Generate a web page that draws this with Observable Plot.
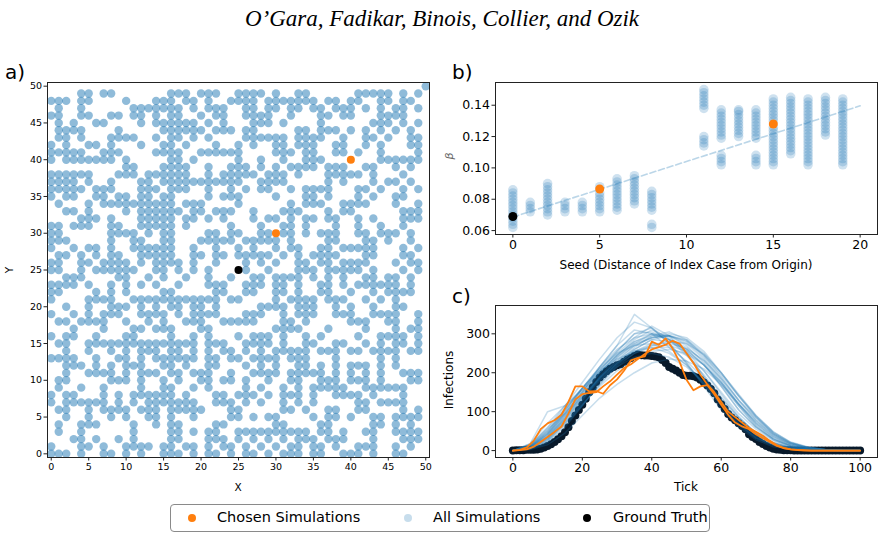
<!DOCTYPE html>
<html>
<head>
<meta charset="utf-8">
<script src="https://cdn.jsdelivr.net/npm/d3@7"></script>
<script src="https://cdn.jsdelivr.net/npm/@observablehq/plot@0.6"></script>
<style>
  body { margin: 0; background: #fff; }
  #fig { position: relative; width: 884px; height: 539px; overflow: hidden; font-family: "DejaVu Sans", sans-serif; color: #000; }
  #fig svg { position: absolute; overflow: visible; }
  .lbl { position: absolute; white-space: nowrap; line-height: 1; }
  .rot { transform: translate(-50%, -50%) rotate(-90deg); }
  .ctr { transform: translate(-50%, -50%); }
  #title { position: absolute; left: 0; width: 884px; top: 6px; text-align: center; font-family: "Liberation Serif", serif; font-style: italic; font-size: 23px; }
  #legend { position: absolute; left: 170px; top: 504px; width: 540px; height: 28px; border: 1px solid #8a8a8a; border-radius: 4px; box-sizing: border-box; }
  .sw { position: absolute; top: 9px; width: 8px; height: 8px; border-radius: 50%; }
  .lt { position: absolute; top: 5px; font-size: 14.5px; line-height: 1; }
</style>
</head>
<body>
<div id="fig"></div>
<script>
// ---------- Panel a: occupied grid cells, listed per row (y) as x positions ----------
const gridRows = [
  [50, [50]],
  [49, [4,5,7,8,16,17,18,20,21,22,25,26,27,28,30,33,34,41,42,43,44,45,47,49]],
  [48, [0,1,2,4,5,10,14,15,16,18,19,21,24,25,26,27,29,30,31,32,33,34,35,37,38,40,41,44,45,47,48]],
  [47, [1,4,11,12,13,14,15,16,17,19,21,22,23,26,27,29,30,32,33,35,36,38,39,40,42,44,46,47,49]],
  [46, [0,1,4,5,8,9,11,12,14,16,17,20,22,23,26,27,28,29,32,36,37,39,40,44,45,46,47]],
  [45, [1,3,6,7,12,14,15,16,17,18,19,21,23,27,28,29,31,36,43,44,45,47,49]],
  [44, [1,2,3,4,9,15,16,17,18,19,20,22,23,24,26,27,33,34,36,37,38,40,42,44,46,48]],
  [43, [1,2,4,8,9,10,11,14,16,17,19,21,26,27,28,29,30,31,33,34,35,36,39,42,43,45,48,49]],
  [42, [0,2,5,6,8,12,15,16,18,22,25,27,30,31,33,34,35,38,39,42,44,48,49]],
  [41, [0,1,2,3,4,7,8,9,14,15,16,17,20,21,22,23,24,25,30,31,32,34,35,38,39,41,44,49]],
  [40, [0,2,3,4,5,6,7,8,10,16,17,19,25,28,31,34,35,36,44,45,46,47,48,49]],
  [39, [10,11,15,16,17,18,21,24,25,26,28,30,32,33,34,35,37,38,39,42,43,46,48]],
  [38, [0,1,2,3,4,5,9,10,11,13,14,15,16,17,18,21,23,24,25,26,27,29,30,31,33,37,38,39,40,41,43,47]],
  [37, [0,1,2,3,5,8,12,13,15,16,17,18,19,20,21,22,23,24,25,28,29,30,31,37,39,43,45,46,48]],
  [36, [0,1,2,3,4,6,7,8,12,13,14,16,17,18,21,24,26,28,29,32,34,35,36,37,41,42,44,47,49]],
  [35, [0,2,3,6,7,9,10,12,13,15,16,21,23,24,25,30,34,35,37,41,43,46,47]],
  [34, [1,5,7,8,9,10,11,12,13,14,15,16,18,19,20,25,32,34,35,36,39,40,41,42,46,49]],
  [33, [2,3,5,10,12,13,14,15,16,17,19,20,22,23,24,27,31,32,33,37,39,40,47,48,49]],
  [32, [4,5,6,8,12,13,14,15,16,18,19,21,23,27,29,30,32,34,35,37,38,41,43,47,48,49]],
  [31, [0,1,3,4,5,8,9,12,13,14,15,16,18,24,28,31,32,34,38,41,44,47]],
  [30, [0,1,8,9,10,11,13,15,16,21,22,24,25,28,29,31,32,34,36,37,38,41,42,44,45,46,48]],
  [29, [0,1,2,8,11,12,15,16,20,21,22,23,24,26,27,28,29,30,32,37,38,42,43,45,48]],
  [28, [0,3,5,6,8,11,12,13,14,15,16,19,22,25,27,30,32,33,36,37,39,40,41,42,43,47,49]],
  [27, [1,2,4,6,8,9,12,13,14,15,16,19,20,22,23,25,26,27,28,29,31,33,35,36,37,38,42,43,47,48]],
  [26, [0,1,4,5,7,8,9,10,12,14,15,16,17,19,22,26,28,30,33,34,36,37,39,40,41,42,46,48,49]],
  [25, [0,1,4,6,7,8,9,10,11,14,15,17,19,21,26,29,33,34,35,37,38,39,40,41,43,47,49]],
  [24, [2,3,4,9,10,13,15,18,21,24,27,28,30,31,32,33,35,37,39,42,43,45,46,48]],
  [23, [0,1,2,3,5,8,10,12,14,17,21,22,23,26,27,28,30,31,33,36,37,39,41,42,43,44,45,46,48]],
  [22, [0,1,6,8,10,15,16,22,23,26,27,30,31,33,36,37,40,43,45,46,47,48]],
  [21, [0,5,6,7,8,11,12,13,14,15,16,17,18,19,20,21,22,24,25,30,32,33,34,35,37,38,39,42,44,46]],
  [20, [2,5,8,9,10,12,14,16,17,19,20,22,28,29,30,31,33,34,35,38,40,43,46,47]],
  [19, [0,3,5,7,8,9,12,13,14,15,17,19,20,21,22,26,27,28,31,33,34,35,38,39,40,43,44,45,46,49]],
  [18, [1,2,4,5,6,7,10,13,15,18,19,20,23,24,25,26,27,31,32,34,40,41,42,45,46,49]],
  [17, [3,7,11,12,14,15,16,20,21,30,31,32,33,37,42,46,48,49]],
  [16, [0,2,3,6,10,11,16,19,21,25,27,28,29,31,34,36,41,44,45,46,47,49]],
  [15, [1,2,5,6,7,8,9,10,11,12,13,14,15,16,17,18,19,21,22,23,26,27,28,29,31,34,35,38,39,42,44,46,47,49]],
  [14, [2,5,8,10,12,13,14,16,17,19,21,23,24,26,28,30,31,32,33,34,36,37,38,40,41,43,44,45,46,48,49]],
  [13, [0,1,2,3,6,9,10,12,14,15,16,17,18,19,21,22,24,25,27,28,29,30,32,33,34,38,44,46]],
  [12, [2,3,4,6,8,10,11,12,15,16,18,21,22,26,28,30,33,34,36,38,40,41,42,44,46]],
  [11, [2,5,6,7,8,10,12,13,14,16,17,19,20,21,24,27,28,29,30,32,33,34,35,36,38,40,42,44,47,48,49]],
  [10, [1,2,8,9,10,12,15,17,20,21,23,24,26,29,32,33,36,37,38,40,41,42,44,48,49]],
  [9,  [1,4,7,12,15,16,19,21,26,28,31,33,35,36,37,38,39,42,43,44,45,46,47]],
  [8,  [0,2,3,7,9,11,12,13,14,15,16,18,22,23,25,26,27,29,31,32,33,35,38,39,40,41,43,47]],
  [7,  [0,2,3,4,5,6,7,9,11,13,14,15,16,17,18,19,22,23,24,26,28,31,33,35,41,42,44,45,46,47]],
  [6,  [1,2,5,7,8,9,10,12,13,14,16,17,18,19,20,24,25,31,32,34,37,38,41,42,47,49]],
  [5,  [2,5,8,10,13,14,16,19,24,25,27,29,30,35,37,38,40,43,44,46,47,48,49]],
  [4,  [1,4,5,6,11,14,16,17,22,23,30,31,36,37,43,44,46,48]],
  [3,  [1,4,11,16,17,19,21,22,25,26,27,28,29,30,31,32,33,34,36,37,39,42,43,46,47,48,49]],
  [2,  [3,4,6,9,11,16,17,21,22,23,25,27,29,31,33,34,35,37,38,39,43,47,48,49]],
  [1,  [0,4,5,7,10,11,12,13,15,16,18,19,21,23,24,26,28,30,32,33,35,36,38,41,42,43,46,48]],
  [0,  [0,1,2,4,7,8,10,12,15,16,17,19,21,22,24,26,27,29,31,32,33,35,36,39,40,41,43,46,47]]
];
const chosenOrigins = [[30, 30], [40, 40]];
const truthOrigin = [25, 25];
const gridTicks = [0, 5, 10, 15, 20, 25, 30, 35, 40, 45, 50];

// ---------- Panel b: beta values of each simulation, grouped by seed ----------
const betaBySeed = [
  [0,  [0.062,0.064,0.066,0.068,0.070,0.072,0.074,0.076,0.078,0.080,0.082,0.084,0.086]],
  [1,  [0.072,0.074,0.076,0.078]],
  [2,  [0.070,0.072,0.074,0.076,0.078,0.080,0.082,0.084,0.086,0.088,0.090]],
  [3,  [0.072,0.074,0.076,0.078]],
  [4,  [0.072,0.074,0.076,0.078]],
  [5,  [0.072,0.074,0.076,0.078,0.080,0.082,0.084,0.088]],
  [6,  [0.073,0.075,0.077,0.079,0.081,0.083,0.085,0.087,0.089,0.091,0.093]],
  [7,  [0.077,0.079,0.081,0.083,0.085,0.087,0.089,0.091,0.093,0.095]],
  [8,  [0.062,0.064,0.073,0.075,0.077,0.079,0.081,0.083,0.085]],
  [11, [0.114,0.116,0.118,0.120,0.138,0.140,0.142,0.144,0.146,0.148,0.150]],
  [12, [0.102,0.104,0.106,0.108,0.119,0.121,0.123,0.125,0.127,0.129,0.131,0.133,0.135,0.137]],
  [13, [0.120,0.122,0.124,0.126,0.128,0.130,0.132,0.134,0.136,0.137]],
  [14, [0.102,0.104,0.106,0.108,0.119,0.121,0.123,0.125,0.127,0.129,0.131,0.133,0.135,0.137]],
  [15, [0.102,0.104,0.106,0.108,0.110,0.112,0.114,0.116,0.118,0.120,0.122,0.124,0.126,0.130,0.132,0.134,0.136,0.138,0.140,0.142,0.144]],
  [16, [0.109,0.111,0.113,0.115,0.117,0.119,0.121,0.123,0.125,0.127,0.129,0.131,0.133,0.135,0.137,0.139,0.141,0.143,0.145]],
  [17, [0.102,0.104,0.106,0.108,0.110,0.112,0.114,0.116,0.118,0.120,0.122,0.124,0.126,0.128,0.130,0.132,0.134,0.136,0.138,0.140,0.142,0.144]],
  [18, [0.121,0.123,0.125,0.127,0.129,0.131,0.133,0.135,0.137,0.139,0.141,0.143,0.145]],
  [19, [0.102,0.104,0.106,0.108,0.110,0.112,0.114,0.116,0.118,0.120,0.122,0.124,0.126,0.128,0.130,0.132,0.134,0.136,0.138,0.140,0.142,0.144]]
];
const chosenBeta = [[5, 0.0865], [15, 0.128]];
const truthBeta = [0, 0.069];
const fitLine = [[0, 0.0686], [20, 0.1396]];
const seedTicks = [0, 5, 10, 15, 20];
const betaTicks = [0.06, 0.08, 0.10, 0.12, 0.14];

// ---------- Panel c: infections over time ----------
const truthCurve = [
  0,1,1,1,2,2,2,3,5,8,
  12,16,22,29,37,47,60,76,90,104,
  118,133,150,163,176,188,196,204,210,215,
  219,222,228,234,238,243,247,245,244,244,
  243,242,240,233,225,215,210,206,200,194,
  192,192,191,188,182,175,167,158,147,131,
  119,107,94,85,78,70,63,55,42,35,
  30,22,17,12,8,5,3,2,1,1,
  1,0,0,0,0,0,0,0,0,0,
  0,0,0,0,0,0,0,0,0,0,0
];
const chosenTicks = [0,2,4,6,8,10,12,14,16,18,20,22,24,26,28,30,32,34,36,38,40,42,44,46,48,50,52,54,56,58,60,62,64,66,68,70,72,74,76,78,80,82,84,86,88,90,92,94,96,98,100];
const chosenA = [0,2,8,25,55,70,78,92,125,165,165,152,153,146,168,183,205,232,238,242,280,272,288,262,228,182,155,165,168,145,118,92,72,62,55,42,32,22,12,6,3,2,1,0,0,0,0,0,0,0,0];
const chosenB = [0,1,3,10,22,35,48,62,95,132,145,148,150,165,178,195,212,222,235,248,260,266,272,282,275,250,225,195,170,150,125,100,86,72,58,48,38,25,14,7,3,1,0,0,0,0,0,0,0,0,0];
const simTicks = [0,5,10,15,20,25,30,35,40,45,50,55,60,65,70,75,80,85,90,95,100];
const simRuns = [
  [0,10,45,100,160,215,260,290,300,285,250,190,125,75,38,16,6,2,1,0,0],
  [0,8,35,85,145,200,245,280,300,295,270,225,165,105,60,30,12,4,1,0,0],
  [0,15,60,115,175,235,290,330,315,275,225,165,105,60,28,10,4,1,0,0,0],
  [0,5,25,70,125,180,225,265,295,305,285,245,190,130,80,42,18,7,2,1,0],
  [0,12,50,105,160,210,250,270,275,255,220,170,115,68,32,14,5,2,0,0,0],
  [0,6,30,75,130,190,240,275,290,295,280,240,185,130,85,45,20,8,3,1,0],
  [0,18,70,115,160,215,270,350,315,275,225,170,115,65,32,14,5,2,0,0,0],
  [0,10,40,90,140,185,220,250,265,265,245,205,150,95,55,25,10,3,1,0,0],
  [0,7,30,80,135,180,215,240,250,240,215,175,125,78,40,18,7,2,1,0,0],
  [0,4,20,60,115,170,220,260,285,295,285,250,200,145,90,48,22,9,3,1,0],
  [0,14,55,95,150,215,270,310,300,265,230,185,135,85,45,20,8,3,1,0,0],
  [0,9,38,88,140,190,230,260,285,280,260,220,165,105,60,28,12,5,2,0,0],
  [0,11,48,100,155,200,245,285,310,290,255,205,145,88,45,20,8,3,1,0,0],
  [0,6,28,72,120,165,205,235,255,260,250,220,175,120,72,36,15,6,2,0,0],
  [0,18,100,115,155,205,250,290,320,295,250,190,130,78,40,18,6,2,1,0,0],
  [0,8,34,82,135,185,230,270,290,295,282,245,195,140,88,45,20,8,3,1,0],
  [0,5,22,65,115,175,225,255,270,270,255,220,175,120,70,35,15,6,2,0,0],
  [0,13,52,105,160,205,235,255,265,250,220,175,120,70,35,15,5,2,0,0,0],
  [0,3,15,45,90,135,170,200,225,235,230,210,170,120,75,40,18,7,2,1,0],
  [0,9,42,95,150,205,255,300,305,285,260,220,170,115,65,30,12,4,1,0,0],
  [0,12,45,95,150,200,245,280,295,295,275,235,180,120,68,32,13,5,1,0,0],
  [0,7,32,78,130,185,235,270,290,300,290,255,200,140,85,42,18,7,2,0,0],
  [0,10,42,92,145,195,240,275,300,285,265,230,175,115,62,28,11,4,1,0,0],
  [0,6,26,68,118,170,215,250,270,280,275,248,200,142,90,48,21,8,3,1,0],
  [0,15,58,108,160,210,255,300,315,285,245,195,138,85,45,20,8,3,1,0,0],
  [0,9,36,84,138,188,225,255,275,275,262,232,185,128,78,38,16,6,2,0,0]
];
const tickTicks = [0, 20, 40, 60, 80, 100];
const infectionTicks = [0, 100, 200, 300];

// ---------- colours ----------
const BLUE = "#1f77b4", ORANGE = "#ff7f0e", AXIS = "#222";

const fig = document.getElementById("fig");
function place(svg, left, top) { svg.style.left = left + "px"; svg.style.top = top + "px"; fig.appendChild(svg); }
function text(html, left, top, cls, style) {
  const d = document.createElement("div");
  d.className = "lbl " + (cls || "");
  d.innerHTML = html;
  d.style.left = left + "px"; d.style.top = top + "px";
  Object.assign(d.style, style || {});
  fig.appendChild(d);
  return d;
}

// ---------- a) grid ----------
const cells = gridRows.flatMap(([y, xs]) => xs.map(x => ({x, y})));
const plotA = Plot.plot({
  width: 440, height: 440,
  marginLeft: 47, marginRight: 11, marginTop: 22, marginBottom: 43,
  style: {fontFamily: "DejaVu Sans", fontSize: "9.5px", background: "transparent"},
  x: {domain: [-0.5, 50.5]},
  y: {domain: [-0.5, 50.5]},
  marks: [
    Plot.dot(cells, {x: "x", y: "y", r: 4.2, fill: BLUE, fillOpacity: 0.5, clip: true}),
    Plot.dot(chosenOrigins, {x: d => d[0], y: d => d[1], r: 4, fill: ORANGE}),
    Plot.dot([truthOrigin], {x: d => d[0], y: d => d[1], r: 4, fill: "#000"}),
    Plot.frame({stroke: AXIS, strokeWidth: 1}),
    Plot.axisX({ticks: gridTicks, tickSize: 3.5, tickPadding: 2, label: null, stroke: AXIS}),
    Plot.axisY({ticks: gridTicks, tickSize: 3.5, tickPadding: 2, label: null, stroke: AXIS})
  ]
});
place(plotA, 0, 60);

// ---------- b) beta vs seed ----------
const betaPoints = betaBySeed.flatMap(([seed, bs]) => bs.map(beta => ({seed, beta})));
const plotB = Plot.plot({
  width: 444, height: 200,
  marginLeft: 55, marginRight: 7, marginTop: 22, marginBottom: 26,
  style: {fontFamily: "DejaVu Sans", fontSize: "12.5px", background: "transparent"},
  x: {domain: [-1, 21]},
  y: {domain: [0.0575, 0.1545]},
  marks: [
    Plot.dot(betaPoints, {x: "seed", y: "beta", r: 4.8, fill: BLUE, fillOpacity: 0.22}),
    Plot.line(fitLine, {x: d => d[0], y: d => d[1], stroke: BLUE, strokeOpacity: 0.3, strokeWidth: 1.6, strokeDasharray: "6,3"}),
    Plot.dot(chosenBeta, {x: d => d[0], y: d => d[1], r: 4.5, fill: ORANGE}),
    Plot.dot([truthBeta], {x: d => d[0], y: d => d[1], r: 4.5, fill: "#000"}),
    Plot.frame({stroke: AXIS, strokeWidth: 1}),
    Plot.axisX({ticks: seedTicks, tickSize: 3.5, tickPadding: 2, label: null, stroke: AXIS}),
    Plot.axisY({ticks: betaTicks, tickFormat: d3.format(".2f"), tickSize: 3.5, tickPadding: 2, label: null, stroke: AXIS})
  ]
});
place(plotB, 440, 60);

// ---------- c) infections ----------
const simRows = simRuns.flatMap((vals, i) => vals.map((v, j) => ({sim: i, tick: simTicks[j], v})));
const truthRows = truthCurve.map((v, t) => ({tick: t, v}));
const chosenRows = [chosenA, chosenB].flatMap((vals, i) => vals.map((v, j) => ({sim: i, tick: chosenTicks[j], v})));
const plotC = Plot.plot({
  width: 444, height: 195,
  marginLeft: 55, marginRight: 7, marginTop: 20, marginBottom: 23,
  style: {fontFamily: "DejaVu Sans", fontSize: "12.5px", background: "transparent"},
  x: {domain: [-5, 105]},
  y: {domain: [-17.75, 372.75]},
  marks: [
    Plot.dot(truthRows, {x: "tick", y: "v", r: 4, fill: "#08192a"}),
    Plot.line(simRows, {x: "tick", y: "v", z: "sim", stroke: BLUE, strokeOpacity: 0.25, strokeWidth: 1.5}),
    Plot.line(chosenRows, {x: "tick", y: "v", z: "sim", stroke: ORANGE, strokeWidth: 1.8}),
    Plot.frame({stroke: AXIS, strokeWidth: 1}),
    Plot.axisX({ticks: tickTicks, tickSize: 3.5, tickPadding: 2, label: null, stroke: AXIS}),
    Plot.axisY({ticks: infectionTicks, tickSize: 3.5, tickPadding: 2, label: null, stroke: AXIS})
  ]
});
place(plotC, 440, 285);

// ---------- titles, axis labels, legend ----------
const title = document.createElement("div");
title.id = "title";
title.textContent = "O’Gara, Fadikar, Binois, Collier, and Ozik";
fig.appendChild(title);

text("a)", 5, 62, "", {fontSize: "20px"});
text("b)", 452, 62, "", {fontSize: "20px"});
text("c)", 452, 286, "", {fontSize: "20px"});

text("X", 238, 487, "ctr", {fontSize: "10.5px"});
text("Y", 9, 270, "rot", {fontSize: "10.5px"});
text("Seed (Distance of Index Case from Origin)", 686, 265, "ctr", {fontSize: "12px"});
text("β", 449, 156, "rot", {fontSize: "11px", fontStyle: "italic", color: "#666"});
text("Tick", 686, 487, "ctr", {fontSize: "12px"});
text("Infections", 449, 380, "rot", {fontSize: "12px"});

const legend = document.createElement("div");
legend.id = "legend";
legend.innerHTML =
  `<div class="sw" style="left:17px;background:${ORANGE}"></div><div class="lt" style="left:46px">Chosen Simulations</div>` +
  `<div class="sw" style="left:233px;background:${BLUE};opacity:0.25"></div><div class="lt" style="left:262px">All Simulations</div>` +
  `<div class="sw" style="left:412px;background:#000"></div><div class="lt" style="left:442px">Ground Truth</div>`;
fig.appendChild(legend);
</script>
</body>
</html>
